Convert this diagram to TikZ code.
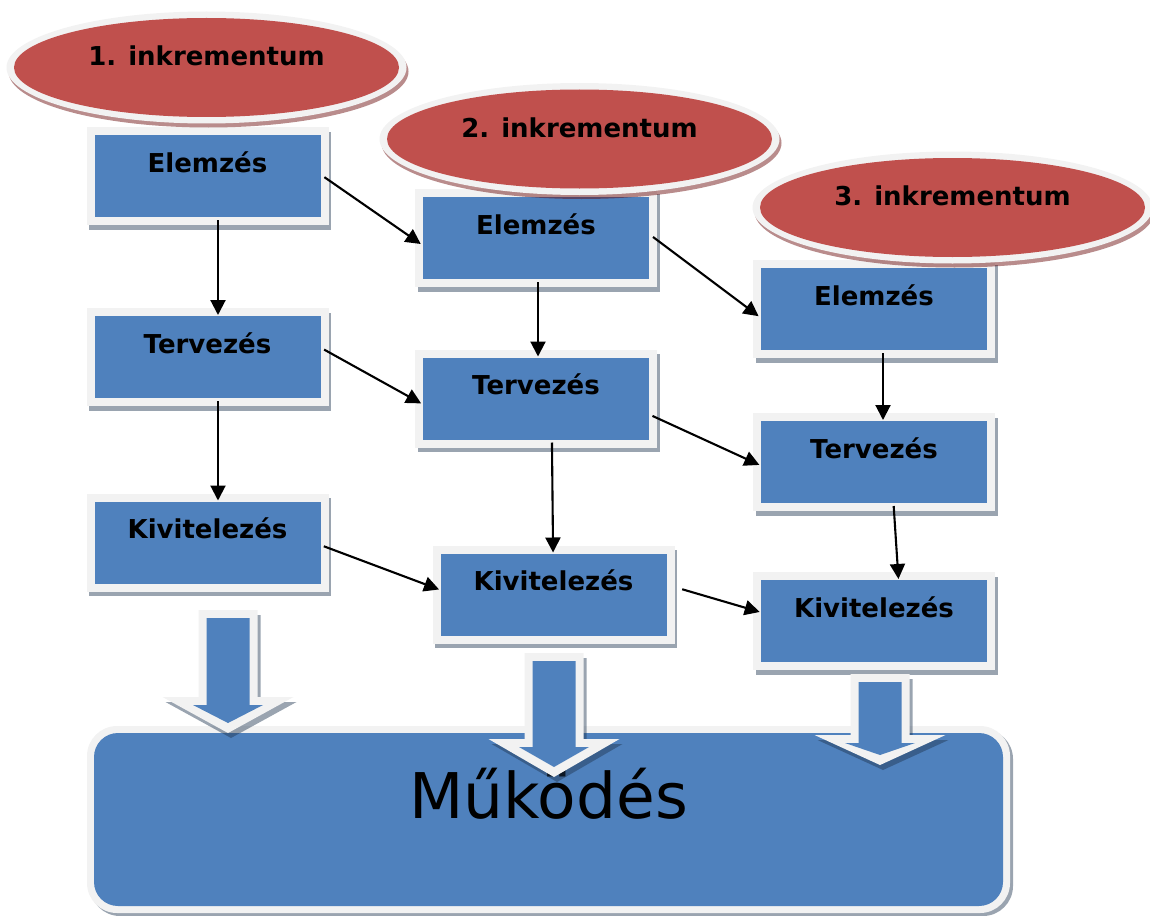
\documentclass[tikz,border=0pt]{standalone}
\usepackage{fontspec}
\setmainfont{DejaVu Sans}
\usetikzlibrary{arrows.meta, positioning, shapes.geometric, shadows}
\definecolor{kek}{HTML}{4F81BD}
\definecolor{piros}{HTML}{C0504D}
\definecolor{keret}{HTML}{F2F2F2}
\definecolor{arnyek}{HTML}{1F3550}
\definecolor{piarnyek}{HTML}{630000}

\tikzset{
  pics/blokknyil/.style 2 args={code={
    \fill[keret, drop shadow={shadow xshift=3pt, shadow yshift=-5pt, fill=arnyek, opacity=0.45}]
      (-29.5,#1) -- (29.5,#1) -- (29.5,#2) -- (65.5,#2) -- (0,0) -- (-65.5,#2) -- (-29.5,#2) -- cycle;
    \fill[kek] (-21.5,#1+8) -- (21.5,#1+8) -- (21.5,#2+8) -- (35,#2+8) -- (0,-10)
      -- (-35,#2+8) -- (-21.5,#2+8) -- cycle;
  }}
}

\begin{document}
\begin{tikzpicture}[
  x=1pt, y=-1pt,
  lepes/.style={rectangle, minimum width=242pt, minimum height=98pt, inner sep=0pt, outer sep=0pt,
                fill=keret, font=\fontsize{26}{30}\selectfont\bfseries, text height=19pt, text depth=27pt,
                drop shadow={shadow xshift=2.5pt, shadow yshift=-4.5pt, fill=arnyek, opacity=0.45},
                path picture={\fill[kek] ([shift={(8pt,8pt)}]path picture bounding box.south west)
                  rectangle ([shift={(-8pt,-8pt)}]path picture bounding box.north east);}},
  inkr/.style={ellipse, minimum width=400pt, minimum height=112pt, inner sep=0pt, outer sep=0pt,
                fill=keret, font=\fontsize{26}{30}\selectfont\bfseries, text height=19pt, text depth=23pt,
                drop shadow={shadow xshift=2pt, shadow yshift=-4pt, fill=piarnyek, opacity=0.45},
                path picture={\fill[piros] (path picture bounding box.center)
                  ellipse [x radius=192.5pt, y radius=49.5pt];}},
  nagydoboz/.style={rectangle, rounded corners=30pt, minimum width=923pt, minimum height=187pt,
                inner sep=0pt, fill=keret, font=\fontsize{63}{70}\selectfont, text height=46pt, text depth=49pt,
                drop shadow={shadow xshift=3pt, shadow yshift=-3pt, fill=arnyek, opacity=0.45},
                path picture={\fill[kek, rounded corners=24pt] ([shift={(7pt,7pt)}]path picture bounding box.south west)
                  rectangle ([shift={(-7pt,-7pt)}]path picture bounding box.north east);}},
  nyil/.style={-{Triangle[length=15pt, width=15pt]}, line width=2.1pt, shorten <=-5pt, shorten >=-7pt},
]
\useasboundingbox (0,0) rectangle (1150,915);

% --- Működés ---
\node[nagydoboz] (mukodes) at (548.5,819.5) {Működés};

% --- 1. inkrementum ---
\node[lepes] (e1) at (207.5,176) {Elemzés};
\node[lepes] (t1) at (207.5,357) {Tervezés};
\node[lepes] (k1) at (207.5,542.5) {Kivitelezés};

% --- 2. inkrementum ---
\node[lepes] (e2) at (536,238) {Elemzés};
\node[lepes] (t2) at (536,398.5) {Tervezés};
\node[lepes] (k2) at (553.5,594.5) {Kivitelezés};

% --- 3. inkrementum ---
\node[lepes] (e3) at (874,309) {Elemzés};
\node[lepes] (t3) at (874,462) {Tervezés};
\node[lepes] (k3) at (874,621) {Kivitelezés};

% --- Fejlécek ---
\node[inkr] (i1) at (206.5,67.5) {1. inkrementum};
\node[inkr] (i2) at (579.5,139) {2. inkrementum};
\node[inkr] (i3) at (952.5,207.5) {3. inkrementum};

% --- Lefelé ---
\draw[nyil] ([xshift=10.5pt]e1.south) -- ([xshift=10.5pt]t1.north);
\draw[nyil] ([xshift=10.5pt]t1.south) -- ([xshift=10.5pt]k1.north);
\draw[nyil] ([xshift=2pt]e2.south) -- ([xshift=2pt]t2.north);
\draw[nyil] ([xshift=16pt]t2.south) -- ([xshift=-0.5pt]k2.north);
\draw[nyil] ([xshift=9pt]e3.south) -- ([xshift=9pt]t3.north);
\draw[nyil] ([xshift=20pt]t3.south) -- ([xshift=24pt]k3.north);

% --- Jobbra ---
\draw[nyil] ([yshift=-4pt]e1.east) -- ([yshift=-2pt]e2.west);
\draw[nyil] ([yshift=-2pt]e2.east) -- ([yshift=-3pt]e3.west);
\draw[nyil] ([yshift=5pt]t1.east) -- ([yshift=-1.5pt]t2.west);
\draw[nyil] ([yshift=-19.5pt]t2.east) -- (t3.west);
\draw[nyil] ([yshift=-5.5pt]k1.east) -- ([yshift=7.5pt]k2.west);
\draw[nyil, shorten <=8pt] ([yshift=7.5pt]k2.east) -- ([yshift=11pt]k3.west);

% --- Blokknyilak ---
\pic at (228,733) {blokknyil={-123}{-36}};
\pic at (554,777) {blokknyil={-124}{-38}};
\pic at (880,765) {blokknyil={-91}{-30}};

\end{tikzpicture}
\end{document}
